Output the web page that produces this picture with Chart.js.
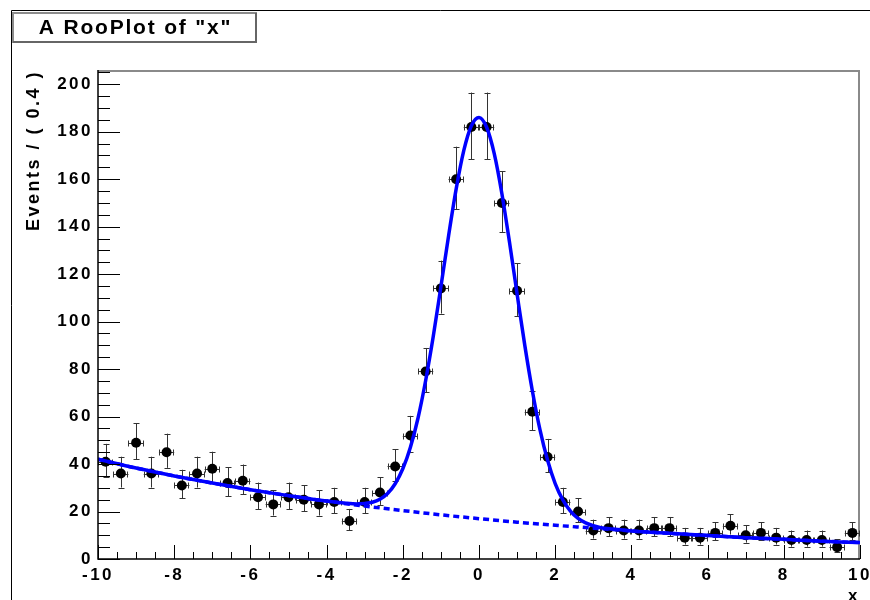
<!DOCTYPE html>
<html>
<head>
<meta charset="utf-8">
<script src="https://cdn.jsdelivr.net/npm/chart.js@4.4.1/dist/chart.umd.min.js"></script>
<style>
  html, body { margin: 0; padding: 0; background: #ffffff; }
  #wrap { width: 870px; height: 600px; }
</style>
</head>
<body>
<div id="wrap"><canvas id="c" width="870" height="600"></canvas></div>
<script>
// ---- Data ----
const binCenters = [-9.8,-9.4,-9.0,-8.6,-8.2,-7.8,-7.4,-7.0,-6.6,-6.2,-5.8,-5.4,-5.0,-4.6,-4.2,-3.8,-3.4,-3.0,-2.6,-2.2,
                    -1.8,-1.4,-1.0,-0.6,-0.2,0.2,0.6,1.0,1.4,1.8,2.2,2.6,3.0,3.4,3.8,4.2,4.6,5.0,5.4,5.8,
                    6.2,6.6,7.0,7.4,7.8,8.2,8.6,9.0,9.4,9.8];
const counts = [41,36,49,36,45,31,36,38,32,33,26,23,26,25,23,24,16,24,28,39,
                52,79,114,160,182,182,150,113,62,43,24,20,12,13,12,12,13,13,9,9,
                11,14,10,11,9,8,8,8,5,11];
const errLow = [6.3,5.9,6.9,5.9,6.6,5.5,5.9,6.1,5.6,5.7,5.0,4.7,5.0,4.9,4.7,4.8,3.9,4.8,5.2,6.2,
                7.1,8.8,10.6,12.6,13.5,13.5,12.2,10.6,7.8,6.5,4.8,4.4,3.4,3.5,3.4,3.4,3.5,3.5,2.9,2.9,
                3.2,3.7,3.1,3.2,2.9,2.8,2.8,2.8,2.2,3.2];
const errHigh = [7.5,7.1,8.1,7.1,7.8,6.6,7.1,7.2,6.7,6.8,6.2,5.9,6.2,6.1,5.9,6.0,5.1,6.0,6.4,7.3,
                 8.3,9.9,11.7,13.7,14.5,14.5,13.3,11.7,8.9,7.6,6.0,5.6,4.6,4.7,4.6,4.6,4.7,4.7,4.1,4.1,
                 4.4,4.8,4.3,4.4,4.1,4.0,4.0,4.0,3.4,4.4];
const binHalfWidth = 0.2;

// Total fit curve (solid)
const curveX = [-10,-9,-8,-7,-6,-5,-4,-3.5,-3.2,-3.0,-2.8,-2.6,-2.4,-2.2,-2.0,-1.8,-1.6,-1.4,-1.2,-1.0,
                -0.8,-0.6,-0.4,-0.2,0,0.2,0.4,0.6,0.8,1.0,1.2,1.4,1.6,1.8,2.0,2.2,2.4,2.6,2.8,3.0,
                3.2,3.5,4,5,6,7,8,9,10];
const curveY = [42.0,38.3,35.0,32.0,29.2,26.7,24.4,23.5,23.2,23.4,23.9,25.2,27.6,31.7,38.0,47.1,59.4,75.2,93.8,114.7,
                136.0,155.8,172.0,182.5,186.0,181.9,170.8,154.0,133.5,111.6,90.2,70.9,54.5,41.6,31.8,24.9,20.2,17.1,15.2,14.0,
                13.2,12.6,11.8,10.8,9.9,9.0,8.3,7.5,6.9];

// Background component (dashed)
const bkgX = [-10,-9,-8,-7,-6,-5,-4,-3,-2,-1,0,1,2,3,4,5,6,7,8,9,10];
const bkgY = [42.0,38.3,35.0,32.0,29.2,26.7,24.4,22.3,20.4,18.6,17.0,15.5,14.2,13.0,11.8,10.8,9.9,9.0,8.3,7.5,6.9];

// Axis ticks
const xTicks = [-10,-8,-6,-4,-2,0,2,4,6,8,10];
const yTicks = [0,20,40,60,80,100,120,140,160,180,200];
const xMinorStep = 0.5;
const yMinorStep = 5;

const titleText = 'A RooPlot of "x"';
const xTitle = 'x';
const yTitle = 'Events / ( 0.4 )';

// ---- Build chart ----
const FONT = '"Liberation Sans", Arial, Helvetica, sans-serif';
const SPACING = '2.5px';

const points = binCenters.map((x, i) => ({ x: x, y: counts[i] }));
const curve = curveX.map((x, i) => ({ x: x, y: curveY[i] }));
const bkg = bkgX.map((x, i) => ({ x: x, y: bkgY[i] }));

const rooPlugin = {
  id: 'rooplot',
  beforeDraw(chart) {
    const ctx = chart.ctx;
    ctx.letterSpacing = SPACING;
    ctx.save();
    ctx.fillStyle = '#ffffff';
    ctx.fillRect(0, 0, chart.width, chart.height);
    // pad border
    ctx.strokeStyle = '#000000';
    ctx.lineWidth = 1;
    ctx.beginPath();
    ctx.moveTo(11.5, 600);
    ctx.lineTo(11.5, 10.5);
    ctx.lineTo(870, 10.5);
    ctx.stroke();
    // title box
    ctx.fillStyle = '#ffffff';
    ctx.fillRect(12, 12, 245, 31);
    ctx.strokeStyle = '#8c8c8c';
    ctx.lineWidth = 2;
    ctx.strokeRect(13, 13, 243, 29);
    ctx.strokeStyle = '#666666';
    ctx.beginPath();
    ctx.moveTo(13, 42); ctx.lineTo(256, 42); ctx.lineTo(256, 13);
    ctx.stroke();
    ctx.fillStyle = '#000000';
    ctx.font = 'bold 21px ' + FONT;
    ctx.letterSpacing = '1.8px';
    ctx.textAlign = 'center';
    ctx.textBaseline = 'middle';
    ctx.fillText(titleText, 135.5, 28);
    ctx.restore();
    ctx.letterSpacing = SPACING;
  },
  beforeDatasetsDraw(chart) {
    const ctx = chart.ctx;
    const xs = chart.scales.x, ys = chart.scales.y;
    const a = chart.chartArea;
    ctx.save();
    // frame (top/right gray)
    ctx.strokeStyle = '#8a8a8a';
    ctx.lineWidth = 2;
    ctx.beginPath();
    ctx.moveTo(a.left, a.top + 1);
    ctx.lineTo(a.right - 1, a.top + 1);
    ctx.lineTo(a.right - 1, a.bottom);
    ctx.stroke();
    // error bars
    ctx.strokeStyle = '#333333';
    ctx.lineWidth = 1;
    ctx.beginPath();
    binCenters.forEach((x, i) => {
      const px = Math.round(xs.getPixelForValue(x)) + 0.5;
      const py = ys.getPixelForValue(counts[i]);
      const yTop = ys.getPixelForValue(counts[i] + errHigh[i]);
      const yBot = ys.getPixelForValue(counts[i] - errLow[i]);
      const xl = xs.getPixelForValue(x - binHalfWidth);
      const xr = xs.getPixelForValue(x + binHalfWidth);
      ctx.moveTo(px, yTop); ctx.lineTo(px, yBot);
      ctx.moveTo(px - 3, Math.round(yTop) + 0.5); ctx.lineTo(px + 3, Math.round(yTop) + 0.5);
      ctx.moveTo(px - 3, Math.round(yBot) + 0.5); ctx.lineTo(px + 3, Math.round(yBot) + 0.5);
      const pyr = Math.round(py) + 0.5;
      ctx.moveTo(xl, pyr); ctx.lineTo(xr, pyr);
      ctx.moveTo(Math.round(xl) + 0.5, pyr - 3); ctx.lineTo(Math.round(xl) + 0.5, pyr + 3);
      ctx.moveTo(Math.round(xr) - 0.5, pyr - 3); ctx.lineTo(Math.round(xr) - 0.5, pyr + 3);
    });
    ctx.stroke();
    ctx.restore();
  },
  afterDatasetsDraw(chart) {
    const ctx = chart.ctx;
    const xs = chart.scales.x, ys = chart.scales.y;
    const a = chart.chartArea;
    ctx.save();
    ctx.strokeStyle = '#000000';
    ctx.lineWidth = 1.5;
    ctx.beginPath();
    // axes lines
    ctx.moveTo(a.left, a.top);
    ctx.lineTo(a.left, a.bottom);
    ctx.lineTo(a.right, a.bottom);
    ctx.stroke();
    ctx.lineWidth = 1;
    ctx.beginPath();
    // y ticks
    for (let v = 0; v <= ys.max + 1e-9; v += yMinorStep) {
      const py = Math.round(ys.getPixelForValue(v)) + 0.5;
      const major = yTicks.includes(v);
      ctx.moveTo(a.left, py);
      ctx.lineTo(a.left + (major ? 22 : 12), py);
    }
    // x ticks
    for (let v = xs.min; v <= xs.max + 1e-9; v += xMinorStep) {
      const vv = Math.round(v * 10) / 10;
      const px = Math.round(xs.getPixelForValue(vv)) + 0.5;
      const major = xTicks.includes(vv);
      ctx.moveTo(px, a.bottom);
      ctx.lineTo(px, a.bottom - (major ? 14 : 7));
    }
    ctx.stroke();
    ctx.restore();
  }
};

const tickFont = { family: FONT, size: 17, weight: 'bold' };

new Chart(document.getElementById('c'), {
  type: 'scatter',
  data: {
    datasets: [
      {
        label: 'model',
        data: curve,
        showLine: true,
        borderColor: '#0000ff',
        borderWidth: 3.5,
        pointRadius: 0,
        cubicInterpolationMode: 'monotone',
        order: 0
      },
      {
        label: 'background',
        data: bkg,
        showLine: true,
        borderColor: '#0000ff',
        borderWidth: 3.5,
        borderDash: [6, 4],
        pointRadius: 0,
        cubicInterpolationMode: 'monotone',
        order: 1
      },
      {
        label: 'data',
        data: points,
        showLine: false,
        pointRadius: 5,
        pointHoverRadius: 5,
        pointBackgroundColor: '#000000',
        pointBorderColor: '#000000',
        pointBorderWidth: 0,
        order: 2
      }
    ]
  },
  options: {
    responsive: false,
    maintainAspectRatio: false,
    animation: false,
    devicePixelRatio: 1,
    layout: { padding: { top: 70, right: 10, bottom: 0, left: 0 } },
    plugins: {
      legend: { display: false },
      tooltip: { enabled: false },
      title: { display: false }
    },
    scales: {
      x: {
        type: 'linear',
        min: -10,
        max: 10,
        afterBuildTicks: (s) => { s.ticks = xTicks.map(v => ({ value: v })); },
        afterFit: (s) => { s.height = 41; s.paddingLeft = 0; s.paddingRight = 0; },
        grid: { display: false, drawTicks: false },
        border: { display: false },
        ticks: {
          font: tickFont,
          color: '#000000',
          padding: 6,
          maxRotation: 0,
          autoSkip: false,
          callback: (v) => String(v)
        },
        title: {
          display: true,
          text: xTitle,
          align: 'end',
          color: '#000000',
          font: { family: FONT, size: 17, weight: 'bold' },
          padding: { top: 0, bottom: -7 }
        }
      },
      y: {
        type: 'linear',
        min: 0,
        max: 206,
        afterBuildTicks: (s) => { s.ticks = yTicks.map(v => ({ value: v })); },
        afterFit: (s) => { s.width = 98; s.paddingTop = 0; s.paddingBottom = 0; },
        grid: { display: false, drawTicks: false },
        border: { display: false },
        ticks: {
          font: tickFont,
          color: '#000000',
          padding: 5,
          autoSkip: false,
          callback: (v) => String(v)
        },
        title: {
          display: true,
          text: yTitle,
          align: 'end',
          color: '#000000',
          font: { family: FONT, size: 18, weight: 'bold' },
          padding: { top: 23, bottom: 0 }
        }
      }
    }
  },
  plugins: [rooPlugin]
});
</script>
</body>
</html>
